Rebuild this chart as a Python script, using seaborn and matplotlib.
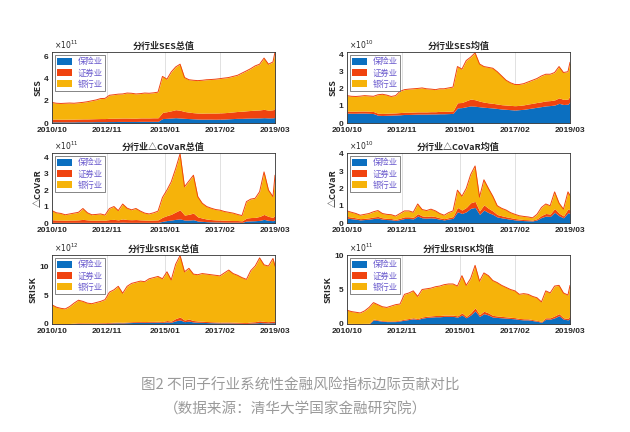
# 分行业系统性金融风险指标 (SES / ΔCoVaR / SRISK) stacked areas
import numpy as np
import pandas as pd
import matplotlib
matplotlib.use('Agg')
import matplotlib.pyplot as plt
import seaborn as sns

sns.set_style('white')
plt.rcParams['font.family'] = ['Noto Sans CJK SC', 'DejaVu Sans']
plt.rcParams['axes.unicode_minus'] = False

# bimonthly sample points, last one 2019/03
dates = list(pd.date_range('2010-10-01', '2019-02-01', freq='2MS')) + [pd.Timestamp('2019-03-01')]
tick_dates = pd.to_datetime(['2010-10-01', '2012-11-01', '2015-01-01', '2017-02-01', '2019-03-01'])
tick_labels = ['2010/10', '2012/11', '2015/01', '2017/02', '2019/03']
industries = ['保险业', '证券业', '银行业']
colors = ['#0b6fc0', '#f0430f', '#f6b30a']

# SES total (x1e11)
ses_sum_ins = [0.10, 0.10, 0.10, 0.10, 0.10, 0.10, 0.11, 0.11, 0.11, 0.11, 0.12, 0.12, 0.12,
               0.13, 0.13, 0.14, 0.14, 0.14, 0.14, 0.14, 0.15, 0.15, 0.15, 0.15, 0.15,
               0.40, 0.42, 0.45, 0.48, 0.45, 0.42, 0.40,
               0.38, 0.36, 0.35, 0.35, 0.35, 0.34, 0.35, 0.36, 0.38,
               0.40, 0.42, 0.42, 0.44, 0.45, 0.46, 0.46, 0.48, 0.46, 0.47, 0.50]
ses_sum_sec = [0.25, 0.25, 0.24, 0.24, 0.25, 0.25, 0.25, 0.26, 0.26, 0.27, 0.27, 0.28, 0.28,
               0.30, 0.30, 0.30, 0.31, 0.31, 0.30, 0.30, 0.31, 0.31, 0.31, 0.32, 0.32,
               0.55, 0.60, 0.65, 0.72, 0.70, 0.62, 0.58,
               0.55, 0.54, 0.54, 0.55, 0.55, 0.56, 0.56, 0.57, 0.58,
               0.60, 0.62, 0.64, 0.66, 0.68, 0.70, 0.72, 0.75, 0.70, 0.72, 0.85]
ses_sum_bank = [1.50, 1.43, 1.42, 1.44, 1.45, 1.43, 1.46, 1.49, 1.55, 1.62, 1.69, 1.80, 1.82,
                2.07, 2.12, 2.16, 2.17, 2.25, 2.24, 2.18, 2.19, 2.24, 2.22, 2.25, 2.31,
                3.25, 2.93, 3.50, 3.85, 4.15, 3.06, 2.92,
                2.92, 2.92, 2.96, 3.00, 3.02, 3.05, 3.09, 3.12, 3.14,
                3.20, 3.26, 3.44, 3.60, 3.77, 3.99, 4.12, 4.62, 4.14, 4.31, 5.05]

# SES mean (x1e10)
ses_avg_ins = [0.58, 0.57, 0.57, 0.58, 0.58, 0.57, 0.55, 0.45, 0.44, 0.45, 0.46, 0.47, 0.48,
               0.50, 0.50, 0.51, 0.52, 0.52, 0.52, 0.53, 0.53, 0.54, 0.54, 0.55, 0.56,
               0.88, 0.90, 0.95, 1.00, 0.98, 0.95, 0.92, 0.90, 0.88, 0.85, 0.82, 0.80, 0.78,
               0.76, 0.78, 0.80, 0.84, 0.88, 0.92, 0.96, 1.00, 1.02, 1.05, 1.15, 1.08, 1.10, 1.25]
ses_avg_sec = [0.12, 0.12, 0.12, 0.12, 0.12, 0.12, 0.12, 0.12, 0.12, 0.12, 0.12, 0.12, 0.13,
               0.13, 0.13, 0.13, 0.13, 0.13, 0.13, 0.13, 0.13, 0.14, 0.14, 0.14, 0.15,
               0.30, 0.30, 0.35, 0.40, 0.38, 0.33, 0.30, 0.28, 0.27, 0.26, 0.25, 0.25, 0.25,
               0.25, 0.25, 0.26, 0.27, 0.27, 0.28, 0.28, 0.29, 0.29, 0.30, 0.32, 0.30, 0.30, 0.35]
ses_avg_bank = [0.90, 0.87, 0.86, 0.87, 0.90, 0.89, 0.89, 1.08, 1.12, 1.06, 0.97, 1.01, 1.24,
                1.32, 1.35, 1.36, 1.37, 1.40, 1.35, 1.32, 1.29, 1.32, 1.32, 1.36, 1.39,
                2.12, 1.95, 2.35, 2.45, 2.74, 2.17, 2.08, 2.07, 2.05, 1.89, 1.68, 1.45, 1.32,
                1.24, 1.22, 1.24, 1.29, 1.35, 1.40, 1.51, 1.56, 1.54, 1.60, 1.83, 1.57, 1.60, 1.95]

# dCoVaR total (x1e11)
cov_sum_ins = [0.04, 0.04, 0.04, 0.04, 0.04, 0.04, 0.04, 0.04, 0.04, 0.04, 0.04, 0.04, 0.04,
               0.04, 0.04, 0.04, 0.05, 0.04, 0.04, 0.04, 0.04, 0.04, 0.04, 0.04, 0.04,
               0.10, 0.15, 0.18, 0.22, 0.25, 0.18, 0.18, 0.20, 0.12, 0.10, 0.08, 0.07, 0.06,
               0.06, 0.05, 0.05, 0.05, 0.05, 0.04, 0.12, 0.13, 0.14, 0.16, 0.22, 0.16, 0.14, 0.20]
cov_sum_sec = [0.16, 0.14, 0.14, 0.13, 0.14, 0.14, 0.15, 0.18, 0.15, 0.13, 0.13, 0.14, 0.13,
               0.17, 0.18, 0.15, 0.20, 0.17, 0.16, 0.17, 0.15, 0.14, 0.13, 0.14, 0.15,
               0.25, 0.30, 0.35, 0.45, 0.55, 0.30, 0.35, 0.40, 0.25, 0.20, 0.16, 0.14, 0.13,
               0.12, 0.12, 0.11, 0.10, 0.10, 0.09, 0.18, 0.20, 0.20, 0.24, 0.30, 0.24, 0.20, 0.30]
cov_sum_bank = [0.55, 0.44, 0.40, 0.33, 0.37, 0.42, 0.46, 0.66, 0.43, 0.33, 0.35, 0.37, 0.31,
                0.67, 0.78, 0.56, 0.90, 0.69, 0.60, 0.67, 0.53, 0.42, 0.38, 0.44, 0.53,
                1.20, 1.55, 1.97, 2.63, 3.40, 1.72, 2.02, 2.30, 1.23, 0.90, 0.76, 0.69, 0.63,
                0.60, 0.53, 0.49, 0.45, 0.37, 0.32, 1.00, 1.12, 1.16, 1.50, 2.58, 1.60, 1.26, 2.40]

# dCoVaR mean (x1e10)
cov_avg_ins = [0.28, 0.25, 0.22, 0.18, 0.20, 0.22, 0.26, 0.28, 0.22, 0.20, 0.19, 0.15, 0.20,
               0.26, 0.26, 0.24, 0.40, 0.30, 0.28, 0.30, 0.27, 0.22, 0.18, 0.23, 0.27,
               0.65, 0.55, 0.65, 0.85, 0.90, 0.50, 0.75, 0.60, 0.50, 0.35, 0.30, 0.26, 0.22,
               0.18, 0.16, 0.14, 0.13, 0.12, 0.18, 0.32, 0.40, 0.38, 0.62, 0.42, 0.30, 0.60, 0.55]
cov_avg_sec = [0.10, 0.09, 0.08, 0.07, 0.07, 0.08, 0.09, 0.10, 0.08, 0.07, 0.07, 0.06, 0.08,
               0.10, 0.10, 0.09, 0.14, 0.11, 0.10, 0.11, 0.10, 0.08, 0.07, 0.08, 0.10,
               0.25, 0.20, 0.25, 0.32, 0.35, 0.20, 0.30, 0.25, 0.20, 0.14, 0.12, 0.10, 0.09,
               0.08, 0.07, 0.06, 0.06, 0.05, 0.07, 0.12, 0.15, 0.14, 0.22, 0.15, 0.11, 0.22, 0.20]
cov_avg_bank = [0.32, 0.28, 0.25, 0.20, 0.23, 0.25, 0.30, 0.34, 0.25, 0.23, 0.22, 0.19, 0.27,
                0.34, 0.34, 0.29, 0.56, 0.37, 0.34, 0.39, 0.33, 0.25, 0.20, 0.29, 0.33,
                1.00, 0.80, 1.10, 1.63, 2.05, 0.80, 1.45, 1.15, 0.85, 0.51, 0.43, 0.39, 0.29,
                0.24, 0.19, 0.18, 0.16, 0.13, 0.25, 0.46, 0.55, 0.48, 0.96, 0.58, 0.39, 0.98, 0.85]

# SRISK total (x1e12)
srisk_sum_ins = [0.00, 0.00, 0.00, 0.00, 0.00, 0.05, 0.10, 0.10, 0.10, 0.10, 0.10, 0.12, 0.12,
                 0.15, 0.18, 0.20, 0.18, 0.22, 0.25, 0.28, 0.30, 0.28, 0.30, 0.30, 0.32,
                 0.28, 0.35, 0.30, 0.55, 0.70, 0.40, 0.50, 0.35, 0.30, 0.28, 0.25, 0.22, 0.20,
                 0.18, 0.18, 0.18, 0.16, 0.14, 0.12, 0.10, 0.15, 0.18, 0.25, 0.20, 0.18, 0.22, 0.20]
srisk_sum_sec = [0.10, 0.09, 0.08, 0.08, 0.09, 0.10, 0.11, 0.10, 0.10, 0.10, 0.10, 0.10, 0.11,
                 0.12, 0.12, 0.13, 0.12, 0.13, 0.14, 0.14, 0.14, 0.14, 0.15, 0.15, 0.16,
                 0.15, 0.25, 0.20, 0.40, 0.50, 0.28, 0.35, 0.25, 0.22, 0.20, 0.18, 0.17, 0.16,
                 0.15, 0.16, 0.17, 0.16, 0.15, 0.15, 0.15, 0.20, 0.22, 0.30, 0.25, 0.22, 0.30, 0.25]
srisk_sum_bank = [3.20, 2.81, 2.62, 2.52, 2.91, 3.45, 3.89, 3.70, 3.40, 3.30, 3.50, 3.68, 3.97,
                  5.23, 5.60, 6.17, 5.00, 6.15, 6.61, 6.78, 6.96, 6.88, 7.35, 7.55, 7.72,
                  7.37, 8.40, 7.10, 9.35, 10.60, 8.32, 8.75, 8.00, 7.98, 8.22, 8.17, 8.11, 8.04,
                  7.97, 8.46, 8.95, 8.38, 8.11, 7.73, 7.45, 8.85, 9.60, 10.85, 9.75, 9.60, 10.78, 9.55]

# SRISK mean (x1e11)
srisk_avg_ins = [0.00, 0.00, 0.00, 0.00, 0.00, 0.00, 0.60, 0.50, 0.40, 0.35, 0.35, 0.35, 0.45,
                 0.55, 0.65, 0.75, 0.65, 0.85, 0.95, 1.00, 1.05, 1.05, 1.10, 1.10, 1.10,
                 1.00, 1.30, 0.90, 1.30, 1.90, 1.10, 1.50, 1.30, 1.00, 0.95, 0.90, 0.85, 0.80,
                 0.75, 0.65, 0.60, 0.60, 0.50, 0.40, 0.25, 0.70, 0.70, 0.90, 1.20, 0.70, 0.60, 0.80]
srisk_avg_sec = [0.10, 0.09, 0.08, 0.08, 0.09, 0.10, 0.12, 0.11, 0.10, 0.10, 0.10, 0.11, 0.11,
                 0.15, 0.15, 0.16, 0.14, 0.17, 0.17, 0.18, 0.18, 0.18, 0.19, 0.19, 0.19,
                 0.18, 0.30, 0.20, 0.30, 0.45, 0.25, 0.35, 0.30, 0.25, 0.22, 0.20, 0.19, 0.18,
                 0.17, 0.16, 0.16, 0.15, 0.14, 0.13, 0.12, 0.20, 0.20, 0.28, 0.30, 0.20, 0.20, 0.45]
srisk_avg_bank = [1.90, 1.71, 1.62, 1.52, 1.81, 2.30, 2.38, 2.19, 2.00, 1.95, 2.15, 2.34, 2.34,
                  3.60, 3.70, 3.89, 3.21, 3.98, 3.98, 4.02, 4.17, 4.27, 4.41, 4.51, 4.51,
                  4.32, 5.40, 4.50, 5.00, 6.15, 4.85, 5.55, 5.40, 5.05, 4.83, 4.50, 4.26, 4.02,
                  3.88, 3.49, 3.64, 3.55, 3.36, 3.27, 2.83, 3.90, 3.60, 4.32, 4.10, 3.60, 3.40, 4.35]

panels = [
    ('分行业SES总值', 'SES', 11, 6.4, [0, 2, 4, 6], ses_sum_ins, ses_sum_sec, ses_sum_bank),
    ('分行业SES均值', 'SES', 10, 4.15, [0, 1, 2, 3, 4], ses_avg_ins, ses_avg_sec, ses_avg_bank),
    ('分行业△CoVaR总值', '△CoVaR', 11, 4.25, [0, 1, 2, 3, 4], cov_sum_ins, cov_sum_sec, cov_sum_bank),
    ('分行业△CoVaR均值', '△CoVaR', 10, 4.05, [0, 1, 2, 3, 4], cov_avg_ins, cov_avg_sec, cov_avg_bank),
    ('分行业SRISK总值', 'SRISK', 12, 11.9, [0, 5, 10], srisk_sum_ins, srisk_sum_sec, srisk_sum_bank),
    ('分行业SRISK均值', 'SRISK', 11, 10.0, [0, 5, 10], srisk_avg_ins, srisk_avg_sec, srisk_avg_bank),
]

W, H = 630, 432
col_x = [52, 347]
row_y = [(52, 123), (153, 223), (255, 324)]

fig = plt.figure(figsize=(W / 100, H / 100), dpi=100)
fig.patch.set_facecolor('white')

for k, (title, ylab, expo, ytop, yticks, ins, sec, bank) in enumerate(panels):
    r, c = divmod(k, 2)
    y0, y1 = row_y[r]
    ax = fig.add_axes([col_x[c] / W, 1 - y1 / H, 223 / W, (y1 - y0) / H])
    polys = ax.stackplot(dates, ins, sec, bank, colors=colors, linewidth=0)
    top = np.array(ins) + np.array(sec) + np.array(bank)
    sns.lineplot(x=dates, y=top, ax=ax, color=colors[1], linewidth=0.7)

    ax.set_xlim(dates[0], dates[-1])
    ax.set_ylim(0, ytop)
    ax.set_xticks(tick_dates)
    ax.set_xticklabels(tick_labels)
    ax.set_yticks(yticks)
    ax.grid(axis='x', color='#d4d4d4', linewidth=0.5)
    ax.set_axisbelow(True)
    ax.tick_params(direction='in', length=2, width=0.5, labelsize=6)
    ax.tick_params(axis='x', pad=3)
    ax.tick_params(axis='y', pad=2.5)
    for lab in ax.get_xticklabels() + ax.get_yticklabels():
        lab.set_family('Liberation Sans')
        lab.set_fontweight('bold')
    for sp in ax.spines.values():
        sp.set_linewidth(0.6)
        sp.set_color('#333333')

    ax.set_title(title, fontsize=6.5, fontweight='bold', pad=2.5)
    ax.set_ylabel(ylab, fontsize=6.5, fontweight='bold', labelpad=1)
    ax.text(0.01, 1.012, r'$\times10^{%d}$' % expo, transform=ax.transAxes,
            fontsize=5.5, va='bottom', ha='left')

    leg = ax.legend(polys, industries, loc='upper left', fontsize=6, frameon=True,
                    fancybox=False, edgecolor='#555555', framealpha=1,
                    handlelength=1.8, handleheight=0.9, borderpad=0.3,
                    labelspacing=0.25, handletextpad=0.6, borderaxespad=0.35)
    leg.get_frame().set_linewidth(0.5)
    for t in leg.get_texts():
        t.set_color('#6a5acd')

fig.text(0.476, 1 - 385 / H, '图2 不同子行业系统性金融风险指标边际贡献对比',
         ha='center', va='center', fontsize=10.5, color='#9a9a9a')
fig.text(0.469, 1 - 410 / H, '（数据来源：清华大学国家金融研究院）',
         ha='center', va='center', fontsize=10.5, color='#9a9a9a')

fig.savefig('out.png', dpi=100)
